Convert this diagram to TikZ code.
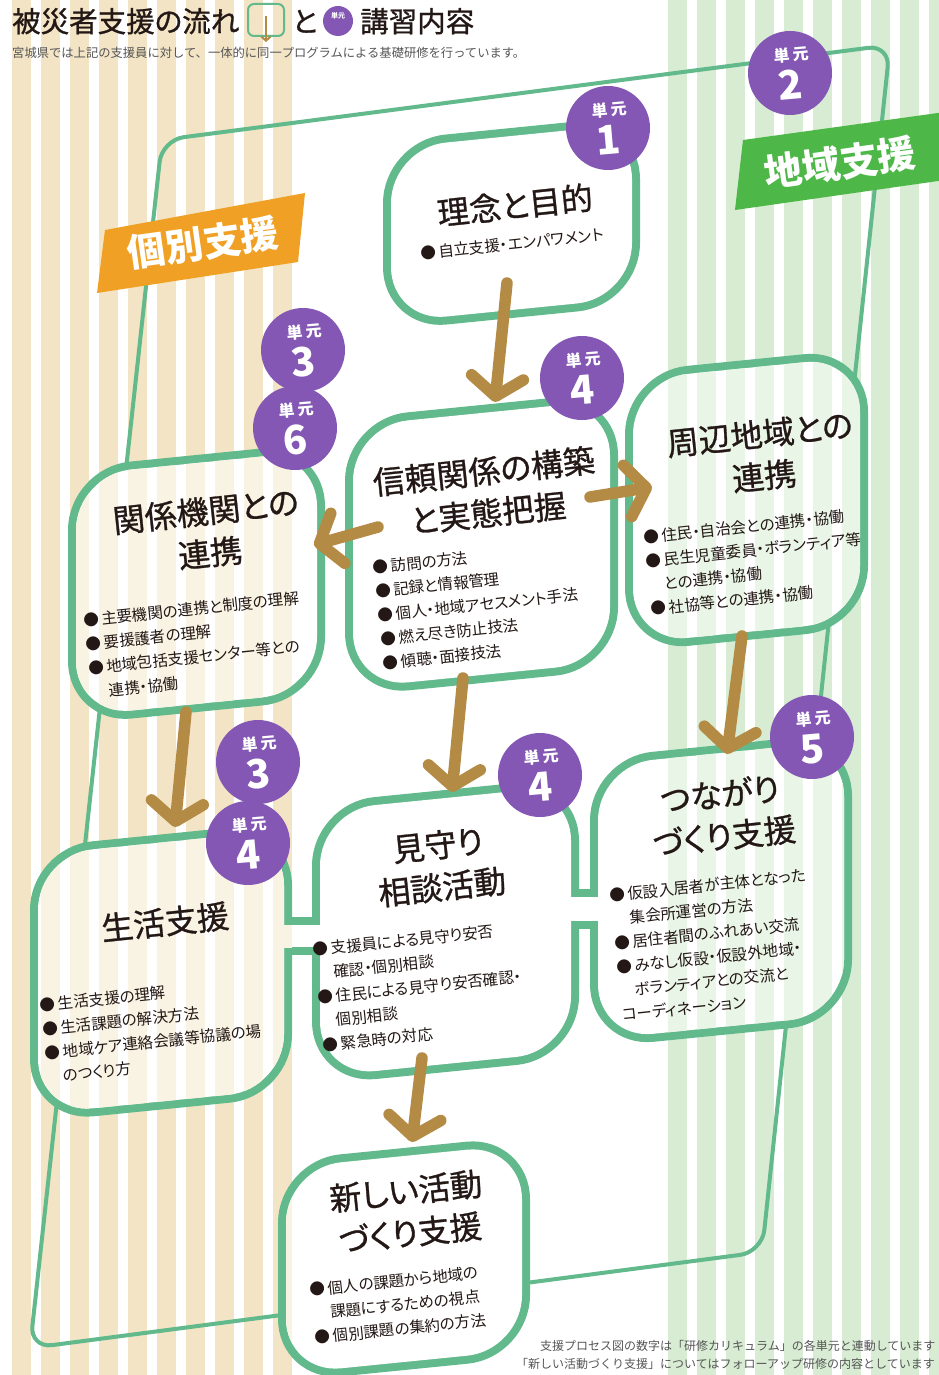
\documentclass[tikz,border=0pt]{standalone}
\usepackage{fontspec}
\setmainfont{Noto Sans CJK JP}[RawFeature=+palt]
\newfontfamily\medfont{Noto Sans CJK JP}[FakeBold=0.9, RawFeature=+palt]
\newfontfamily\plainfont{Noto Sans CJK JP}
\usetikzlibrary{arrows.meta}
\definecolor{beige}{HTML}{F2E4C4}
\definecolor{lgreen}{HTML}{D7ECD2}
\colorlet{beigeF}{beige!45!white}
\colorlet{lgreenF}{lgreen!55!white}
\definecolor{boxgreen}{HTML}{62B98C}
\definecolor{badge}{HTML}{8357B3}
\definecolor{arrowbrown}{HTML}{B38B45}
\definecolor{orangelbl}{HTML}{F0A024}
\definecolor{greenlbl}{HTML}{4DB848}
\definecolor{ink}{HTML}{231815}
\definecolor{grayink}{HTML}{555555}
\tikzset{
  blobline/.style={draw=boxgreen, line width=16pt},
  blobshape/.style={yslant=0.1, rounded corners=55pt},
  ttl/.style={font=\medfont\fontsize{32}{42}\selectfont, text=ink, align=center, rotate=6, inner sep=0pt},
  bul/.style={font=\fontsize{15.5}{24}\selectfont, text=ink, align=left, rotate=6, inner sep=0pt},
  badgec/.style={circle, fill=badge, minimum size=84pt, inner sep=0pt},
  badgeu/.style={font=\plainfont\fontsize{16}{16}\selectfont\bfseries, text=white, rotate=5, inner sep=0pt},
  badged/.style={font=\plainfont\fontsize{40}{40}\selectfont\bfseries, text=white, rotate=5, inner sep=0pt},
  flow/.style={draw=arrowbrown, line width=11.5pt, line cap=round,
    -{Straight Barb[length=19pt,width=52pt,line cap=round,line join=round]}},
  lbl/.style={font=\plainfont\fontsize{38}{38}\selectfont\bfseries, text=white, rotate=8, inner sep=0pt},
  frame/.style={draw=boxgreen, line width=4pt, rounded corners=22pt},
  hdr/.style={anchor=base west, font=\medfont\fontsize{28.5}{28.5}\selectfont, text=ink, inner sep=0pt},
  note/.style={anchor=base west, font=\plainfont\fontsize{12}{12}\selectfont, text=grayink, inner sep=0pt},
}
\newcommand\unitbadge[4]{%
  \node[badgec] (#1) at (#2,#3) {};
  \node[badgeu] (#1u) at ({#2+1},{#3-18}) {単\hspace{3pt}元};
  \node[badged] (#1d) at ({#2},{#3+12}) {#4};
}
\newcommand\stripes[2]{%
  \foreach \i in {0,...,9} {\fill[#1] ({12+29*\i},0) rectangle ({31+29*\i},1375);}
  \foreach \i in {0,...,9} {\fill[#2] ({668+29*\i},0) rectangle ({687+29*\i},1375);}
}
\def\blobs{511.5/223/241/174, 481.5/544/257/262, 196.5/583.5/241/241, 746.5/500/227/264,
  161/972/246/259, 445.5/931/251/266, 721/890/246/274, 404/1259/236/206}
\def\bridges{276/925/328/947, 563/897/606/921}
\begin{document}
\begin{tikzpicture}[x=1pt,y=-1pt]
\useasboundingbox (0,0) rectangle (938,1375);
% background stripes
\stripes{beige}{lgreen}
% big frame
\draw[frame] (162,140) -- (890,45) -- (762,1252) -- (30,1348) -- cycle;
% labels
\fill[orangelbl] (105,230) -- (305,193) -- (298,262) -- (97,293) -- cycle;
\node[lbl] (kobetsu) at (203,243) {個別支援};
\fill[greenlbl] (743,140) -- (945,112) -- (945,180) -- (735,210) -- cycle;
\node[lbl] (chiiki) at (840,163) {地域支援};
% box outlines
\foreach \cx/\cy/\w/\h in \blobs {
  \draw[blobline, shift={(\cx,\cy)}, blobshape] ({-\w/2},{-\h/2}) rectangle ({\w/2},{\h/2});
}
\foreach \xa/\ya/\xb/\yb in \bridges {\draw[blobline] (\xa,\ya) rectangle (\xb,\yb);}
% box interiors
\foreach \cx/\cy/\w/\h in \blobs {
  \fill[white, shift={(\cx,\cy)}, blobshape] ({-\w/2},{-\h/2}) rectangle ({\w/2},{\h/2});
}
\foreach \xa/\ya/\xb/\yb in \bridges {\fill[white] (\xa,\ya) rectangle (\xb,\yb);}
\foreach \cx/\cy/\w/\h in \blobs {
  \begin{scope}
  \clip[shift={(\cx,\cy)}, blobshape] ({-\w/2},{-\h/2}) rectangle ({\w/2},{\h/2});
  \stripes{beigeF}{lgreenF}
  \end{scope}
}
\foreach \xa/\ya/\xb/\yb in \bridges {
  \begin{scope}
  \clip (\xa,\ya) rectangle (\xb,\yb);
  \stripes{beigeF}{lgreenF}
  \end{scope}
}
% box texts
\node[ttl] (t1) at (515,205) {理念と目的};
\node[bul] (b1) at (512,244) {●\,自立支援・エンパワメント};
\node[ttl] (t2) at (486,492) {信頼関係の構築\\と実態把握};
\node[bul] (b2) at (478,605) {●\,訪問の方法\\●\,記録と情報管理\\●\,個人・地域アセスメント手法\\●\,燃え尽き防止技法\\●\,傾聴・面接技法};
\node[ttl] (t3) at (208,532) {関係機関との\\連携};
\node[bul] (b3) at (195,645) {●\,主要機関の連携と制度の理解\\●\,要援護者の理解\\●\,地域包括支援センター等との\\\phantom{●\,}連携・協働};
\node[ttl] (t4) at (762,455) {周辺地域との\\連携};
\node[bul] (b4) at (755,562) {●\,住民・自治会との連携・協働\\●\,民生児童委員・ボランティア等\\\phantom{●}との連携・協働\\●\,社協等との連携・協働};
\node[ttl] (t5) at (165,922) {生活支援};
\node[bul] (b5) at (152,1030) {●\,生活支援の理解\\●\,生活課題の解決方法\\●\,地域ケア連絡会議等協議の場\\\phantom{●}のつくり方};
\node[ttl] (t6) at (440,866) {見守り\\相談活動};
\node[bul] (b6) at (420,987) {●\,支援員による見守り安否\\\phantom{●\,}確認・個別相談\\●\,住民による見守り安否確認・\\\phantom{●}個別相談\\●\,緊急時の対応};
\node[ttl] (t7) at (722,815) {つながり\\づくり支援};
\node[bul] (b7) at (714,945) {●\,仮設入居者が主体となった\\\phantom{●\,}集会所運営の方法\\●\,居住者間のふれあい交流\\●\,みなし仮設・仮設外地域・\\\phantom{●}ボランティアとの交流と\\コーディネーション};
\node[ttl] (t8) at (408,1212) {新しい活動\\づくり支援};
\node[bul] (b8) at (398,1305) {●\,個人の課題から地域の\\\phantom{●\,}課題にするための視点\\●\,個別課題の集約の方法};
% arrows
\coordinate (a1s) at (507,283); \coordinate (a1e) at (495,402);
\coordinate (a2s) at (378,527); \coordinate (a2e) at (314,545);
\coordinate (a3s) at (590,497); \coordinate (a3e) at (652,487);
\coordinate (a4s) at (186,712); \coordinate (a4e) at (175,827);
\coordinate (a5s) at (463,678); \coordinate (a5e) at (452,792);
\coordinate (a6s) at (742,636); \coordinate (a6e) at (727,754);
\coordinate (a7s) at (422,1058); \coordinate (a7e) at (412,1142);
\foreach \n in {1,...,7} {\draw[flow] (a\n s) -- (a\n e);}
% badges
\unitbadge{u1}{608}{128}{1}
\unitbadge{u2}{790}{73}{2}
\unitbadge{u3}{303}{350}{3}
\unitbadge{u6}{295}{428}{6}
\unitbadge{u4a}{582}{378}{4}
\unitbadge{u3b}{258}{762}{3}
\unitbadge{u4b}{248}{843}{4}
\unitbadge{u4c}{540}{775}{4}
\unitbadge{u5}{812}{737}{5}
% header
\node[hdr] (title1) at (12,32) {被災者支援の流れ};
\node[draw=boxgreen, line width=2pt, rounded corners=6pt, minimum width=36pt, minimum height=32pt, inner sep=0pt] (legbox) at (266,20) {};
\coordinate (legA) at (266,16); \coordinate (legB) at (266,42);
\draw[arrowbrown, line width=2pt, -{Straight Barb[length=4pt,width=9pt]}] (legA) -- (legB);
\node[hdr] (to) at (292,32) {と};
\node[circle, fill=badge, minimum size=30pt, inner sep=0pt] (legbadge) at (338,21) {};
\node[font=\plainfont\fontsize{7}{7}\selectfont\bfseries, text=white, inner sep=0pt] (legbadgeu) at (338,16) {単元};
\node[hdr] (title2) at (360,32) {講習内容};
\node[note, font=\plainfont\fontsize{12.3}{12.3}\selectfont] (sub) at (12,58) {宮城県では上記の支援員に対して、一体的に同一プログラムによる基礎研修を行っています。};
\node[note] (fn1) at (540,1350) {支援プロセス図の数字は「研修カリキュラム」の各単元と連動しています};
\node[note] (fn2) at (516,1368) {「新しい活動づくり支援」についてはフォローアップ研修の内容としています};
\end{tikzpicture}
\end{document}
